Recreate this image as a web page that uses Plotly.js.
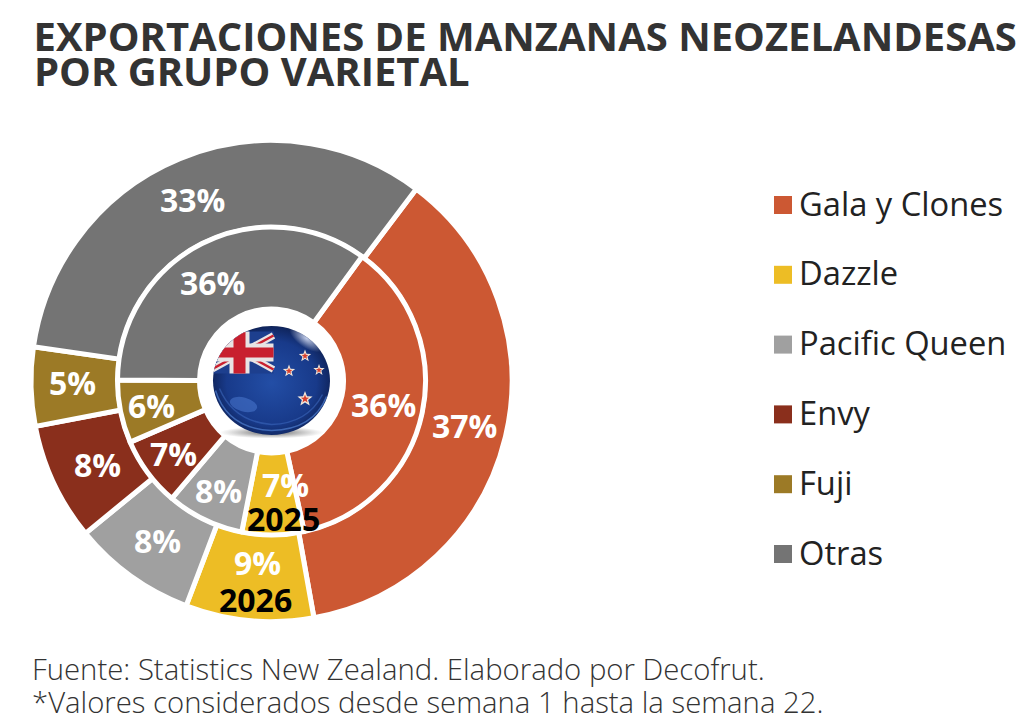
<!DOCTYPE html>
<html>
<head>
<meta charset="utf-8">
<script src="https://cdn.plot.ly/plotly-3.0.1.min.js"></script>
<style>html,body{margin:0;padding:0;background:#fff}</style>
</head>
<body>
<div id="chart" style="width:1024px;height:728px"></div>
<script>
const categories = ['Gala y Clones','Dazzle','Pacific Queen','Envy','Fuji','Otras']
const colors = ['#cc5833','#edbd25','#a0a0a0','#8a2f1c','#9c7a26','#747474']
// wedge sizes, printed labels are separate (they don't quite agree)
const values2026 = [36.9,8.6,8.3,7.9,5.3,33]
const values2025 = [36.6,6.5,8.1,7.3,6.6,34.9]
const labels2026 = ['37%','9%','8%','8%','5%','33%']
const labels2025 = ['36%','7%','8%','7%','6%','36%']

const W=1024, H=728
const cx=271.5, cy=381
const ROT2026=37, ROT2025=36
const FONT='"Open Sans", sans-serif'

// pie domain in paper coords for a given radius in px
const dom=r=>({x:[(cx-r)/W,(cx+r)/W],y:[1-(cy+r)/H,1-(cy-r)/H]})

const pie=(vals,r,hole,rot)=>({
    type:'pie',
    labels:categories,
    values:vals,
    textinfo:'none',
    hoverinfo:'label+percent',
    sort:false,
    direction:'clockwise',
    rotation:rot,
    hole:hole,
    domain:dom(r),
    marker:{colors:colors,line:{color:'#fff',width:5}},
    showlegend:false
})

const traces=[pie(values2026,240.5,0.638,ROT2026),pie(values2025,154,0.4675,ROT2025)]

const shapes=[], annos=[]
const px=(x,y)=>({xref:'paper',yref:'paper',x:x/W,y:1-y/H,showarrow:false,xanchor:'center',yanchor:'middle'})

// legend drawn by hand, the native one can't do this row spacing
categories.forEach((c,i)=>{
    let y=205+i*69.8
    shapes.push({type:'rect',xref:'paper',yref:'paper',x0:774/W,x1:792/W,y0:1-(y-9)/H,y1:1-(y+9)/H,fillcolor:colors[i],line:{width:0}})
    annos.push({...px(797,y-2),xanchor:'left',text:c,font:{family:FONT,size:32.7,color:'#222'}})
})

// percent labels: pie's own inside text shrinks the small ones, so place them at mid angle
const boldWhite={family:FONT,size:32,color:'#fff',weight:700}
const boldBlack={family:FONT,size:32,color:'#000',weight:700}
const ringLabels=(vals,labels,rot,rFn,nudge)=>{
    let sum=vals.reduce((a,b)=>a+b,0), acc=0
    vals.forEach((v,i)=>{
        let a=(rot+(acc+v/2)/sum*360)*Math.PI/180
        acc+=v
        if(i==1) return // Dazzle sits off centre because of the year under it
        let r=rFn(v), n=nudge[i]||[0,0]
        annos.push({...px(cx+r*Math.sin(a)+n[0],cy-r*Math.cos(a)+n[1]),text:labels[i],font:boldWhite})
    })
}
ringLabels(values2026,labels2026,ROT2026,v=>196,{0:[2,-1],3:[3,0],4:[-3,-3],5:[-4,0]})
ringLabels(values2025,labels2025,ROT2025,v=>v<10?122:114,{5:[-8,3]})

annos.push({...px(285,484),text:labels2025[1],font:boldWhite})
annos.push({...px(283,518),text:'2025',font:boldBlack})
annos.push({...px(257,562),text:labels2026[1],font:boldWhite})
annos.push({...px(255,599),text:'2026',font:boldBlack})

annos.push({...px(32,71),xanchor:'left',text:'POR GRUPO VARIETAL',font:{family:FONT,size:40,color:'#333',weight:700}})
annos.push({...px(30,668.5),xanchor:'left',text:'Fuente: Statistics New Zealand. Elaborado por Decofrut.',font:{family:FONT,size:29.3,color:'#333',weight:300}})
annos.push({...px(30,702),xanchor:'left',text:'*Valores considerados desde semana 1 hasta la semana 22.',font:{family:FONT,size:29.3,color:'#333',weight:300}})

const star=(x,y,r)=>{
    let p=[]
    for(let i=0;i<10;i++){
        let a=-Math.PI/2+i*Math.PI/5, q=i%2?r*0.42:r
        p.push((x+q*Math.cos(a)).toFixed(1)+','+(y+q*Math.sin(a)).toFixed(1))
    }
    let pts=p.join(' ')
    return `<polygon points="${pts}" fill="#f1e6da"/><polygon points="${pts}" fill="#d8402e" transform="translate(${x} ${y}) scale(.55) translate(${-x} ${-y})"/>`
}
const flag=`<svg xmlns="http://www.w3.org/2000/svg" width="120" height="120" viewBox="0 0 120 120">
<defs>
<radialGradient id="b" cx="50%" cy="52%" r="55%"><stop offset="0" stop-color="#234ea6"/><stop offset=".7" stop-color="#183a8a"/><stop offset=".92" stop-color="#102660"/><stop offset="1" stop-color="#0a1840"/></radialGradient>
<radialGradient id="s"><stop offset="0" stop-color="#333" stop-opacity=".8"/><stop offset="1" stop-color="#666" stop-opacity="0"/></radialGradient>
<radialGradient id="g"><stop offset="0" stop-color="#dfe8ff" stop-opacity=".85"/><stop offset="1" stop-color="#dfe8ff" stop-opacity="0"/></radialGradient>
<clipPath id="c"><ellipse cx="60" cy="56" rx="58.5" ry="54.5"/></clipPath>
</defs>
<ellipse cx="60" cy="108" rx="52" ry="6" fill="url(#s)"/>
<ellipse cx="60" cy="56" rx="58.5" ry="54.5" fill="url(#b)"/>
<g clip-path="url(#c)">
<rect x="0" y="7" width="62" height="42" fill="#1d3f8e"/>
<path d="M0,11 L62,45 M0,45 L62,11" stroke="#e8e4e4" stroke-width="7"/>
<path d="M0,11 L62,45 M0,45 L62,11" stroke="#c8202f" stroke-width="2.5"/>
<rect x="18" y="7" width="20" height="42" fill="#e8e4e4"/>
<rect x="0" y="19" width="62" height="18" fill="#e8e4e4"/>
<rect x="22" y="7" width="12" height="42" fill="#c8202f"/>
<rect x="0" y="23" width="62" height="10" fill="#c8202f"/>
<ellipse cx="95" cy="14" rx="20" ry="9" fill="url(#g)" transform="rotate(35 95 14)"/>
<ellipse cx="32" cy="80" rx="14" ry="7" fill="#4a78d0" opacity=".55" transform="rotate(15 32 80)"/>
<path d="M4,66 Q16,104 60,106 Q102,105 115,72" fill="none" stroke="#4f7fd0" stroke-width="1.5" opacity=".7"/>
<path d="M8,64 Q22,97 60,100 Q96,99 111,70" fill="none" stroke="#3a66bb" stroke-width="1.5" opacity=".6"/>
</g>
${star(93.5,31.5,6.5)}${star(77.5,46.5,6.5)}${star(107.5,45.5,6)}${star(93.5,74.5,8)}
</svg>`

const layout={
    width:W,height:H,
    margin:{l:0,r:0,t:0,b:0},
    paper_bgcolor:'#fff',
    title:{text:'EXPORTACIONES DE MANZANAS NEOZELANDESAS',xref:'paper',yref:'paper',x:33.5/W,y:1-37/H,xanchor:'left',yanchor:'middle',
        font:{family:FONT,size:40,color:'#333',weight:700}},
    showlegend:false,
    shapes:shapes,
    annotations:annos,
    images:[{source:'data:image/svg+xml;charset=utf-8,'+encodeURIComponent(flag),xref:'paper',yref:'paper',
        x:(cx-60)/W,y:1-(380.5-56)/H,sizex:120/W,sizey:120/H,xanchor:'left',yanchor:'top',layer:'above',sizing:'stretch'}]
}

Plotly.newPlot('chart',traces,layout,{displayModeBar:false})
</script>
</body>
</html>
